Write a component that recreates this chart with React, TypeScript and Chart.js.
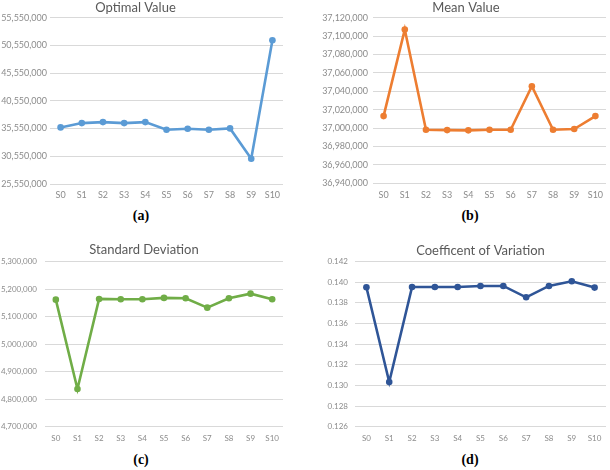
import React, { useEffect, useRef } from "react";
import { Chart, registerables } from "chart.js";

Chart.register(...registerables);

// Stage labels shared by all four panels
const stages = ["S0", "S1", "S2", "S3", "S4", "S5", "S6", "S7", "S8", "S9", "S10"];

// Series values per stage
const optimalValue = [35750000, 36530000, 36710000, 36530000, 36710000, 35330000, 35510000, 35330000, 35570000, 30110000, 51470000];
const meanValue = [37013000, 37107000, 36998200, 36997800, 36997500, 36998200, 36998200, 37045500, 36998200, 36999000, 37013000];
const standardDeviation = [5161800, 4837000, 5164300, 5163000, 5163000, 5168000, 5166700, 5132700, 5166700, 5183600, 5163000];
const coefficientOfVariation = [0.13951, 0.13033, 0.13954, 0.13954, 0.13954, 0.13964, 0.13964, 0.13854, 0.13964, 0.14009, 0.13948];

// Value-axis ranges: [min, max, step]
const optimalRange = [25550000, 55550000, 5000000];
const meanRange = [36940000, 37120000, 20000];
const stdRange = [4700000, 5300000, 100000];
const cvRange = [0.126, 0.142, 0.002];

const FONT = "Lato, 'Open Sans', sans-serif";

// Moves the title block so its centre sits at a chosen x
const titleShift = {
  id: "titleShift",
  afterLayout(chart: any, _args: any, opts: any) {
    const tb = chart.titleBlock;
    if (!tb || opts == null || opts.centerX == null) return;
    const w = tb.right - tb.left;
    tb.left = opts.centerX - w / 2;
    tb.right = tb.left + w;
    if (tb.width != null) tb.width = w;
  },
};

type PanelProps = {
  left: number;
  top: number;
  width: number;
  height: number;
  title: string;
  titleX: number;
  titlePadTop: number;
  titlePadBottom: number;
  values: number[];
  color: string;
  range: number[];
  decimals: number;
  tickSize: number;
  yWidth: number;
  yPad: number;
  padRight: number;
  xHeight: number;
  xPad: number;
};

function Panel(p: PanelProps) {
  const ref = useRef<HTMLCanvasElement | null>(null);

  useEffect(() => {
    if (!ref.current) return;
    const fmt = (v: number) =>
      p.decimals > 0
        ? Number(v).toFixed(p.decimals)
        : Math.round(Number(v)).toLocaleString("en-US");
    const chart = new Chart(ref.current, {
      type: "line",
      data: {
        labels: stages,
        datasets: [
          {
            data: p.values,
            borderColor: p.color,
            backgroundColor: p.color,
            borderWidth: 2.6,
            pointRadius: 3.3,
            pointBorderWidth: 0,
            pointBackgroundColor: p.color,
            tension: 0,
          },
        ],
      },
      options: {
        responsive: false,
        animation: false,
        layout: { padding: { left: 0, right: p.padRight, top: 0, bottom: 0 } },
        plugins: {
          legend: { display: false },
          tooltip: { enabled: false },
          title: {
            display: true,
            text: p.title,
            color: "#595959",
            font: { family: FONT, size: 13, weight: "normal" },
            padding: { top: p.titlePadTop, bottom: p.titlePadBottom },
          },
          titleShift: { centerX: p.titleX },
        } as any,
        scales: {
          x: {
            offset: true,
            grid: { display: false, drawTicks: false },
            border: { display: false },
            ticks: {
              color: "#8c8c8c",
              font: { family: FONT, size: p.tickSize },
              padding: p.xPad,
              maxRotation: 0,
              autoSkip: false,
            },
            afterFit: (s: any) => {
              s.height = p.xHeight;
            },
          },
          y: {
            min: p.range[0],
            max: p.range[1],
            grid: { color: "#d9d9d9", lineWidth: 1, drawTicks: false },
            border: { display: false },
            ticks: {
              stepSize: p.range[2],
              color: "#8c8c8c",
              font: { family: FONT, size: p.tickSize },
              padding: p.yPad,
              callback: (v: any) => fmt(v),
            },
            afterFit: (s: any) => {
              s.width = p.yWidth;
            },
          },
        },
      },
      plugins: [titleShift],
    });
    return () => chart.destroy();
  }, []);

  return (
    <canvas
      ref={ref}
      width={p.width}
      height={p.height}
      style={{ position: "absolute", left: p.left, top: p.top, width: p.width, height: p.height }}
    />
  );
}

const captionStyle: React.CSSProperties = {
  position: "absolute",
  fontFamily: "'Liberation Serif', 'DejaVu Serif', serif",
  fontWeight: "bold",
  fontSize: 14,
  color: "#000",
  transform: "translate(-50%, -50%)",
  lineHeight: 1,
};

export default function App() {
  return (
    <div
      style={{
        position: "absolute",
        left: 0,
        top: 0,
        width: 610,
        height: 470,
        background: "#fff",
        overflow: "hidden",
      }}
    >
      <Panel
        left={0} top={0} width={305} height={205}
        title="Optimal Value" titleX={135.5} titlePadTop={0} titlePadBottom={2}
        values={optimalValue} color="#5b9bd5" range={optimalRange} decimals={0}
        tickSize={9} yWidth={50} yPad={3} padRight={22} xHeight={21} xPad={6}
      />
      <Panel
        left={305} top={0} width={305} height={205}
        title="Mean Value" titleX={161} titlePadTop={0} titlePadBottom={2}
        values={meanValue} color="#ed7d31" range={meanRange} decimals={0}
        tickSize={9} yWidth={68} yPad={5} padRight={3} xHeight={21.7} xPad={6}
      />
      <Panel
        left={0} top={230} width={305} height={220}
        title="Standard Deviation" titleX={144} titlePadTop={12} titlePadBottom={4}
        values={standardDeviation} color="#70ad47" range={stdRange} decimals={0}
        tickSize={8} yWidth={45} yPad={8} padRight={22} xHeight={23.3} xPad={7}
      />
      <Panel
        left={305} top={230} width={305} height={220}
        title="Coefficent of Variation" titleX={175.5} titlePadTop={13} titlePadBottom={3}
        values={coefficientOfVariation} color="#2f5597" range={cvRange} decimals={3}
        tickSize={8} yWidth={50} yPad={7} padRight={2} xHeight={23.3} xPad={7}
      />
      <div style={{ ...captionStyle, left: 141, top: 216 }}>(a)</div>
      <div style={{ ...captionStyle, left: 470, top: 216 }}>(b)</div>
      <div style={{ ...captionStyle, left: 141, top: 460 }}>(c)</div>
      <div style={{ ...captionStyle, left: 470, top: 460 }}>(d)</div>
    </div>
  );
}
